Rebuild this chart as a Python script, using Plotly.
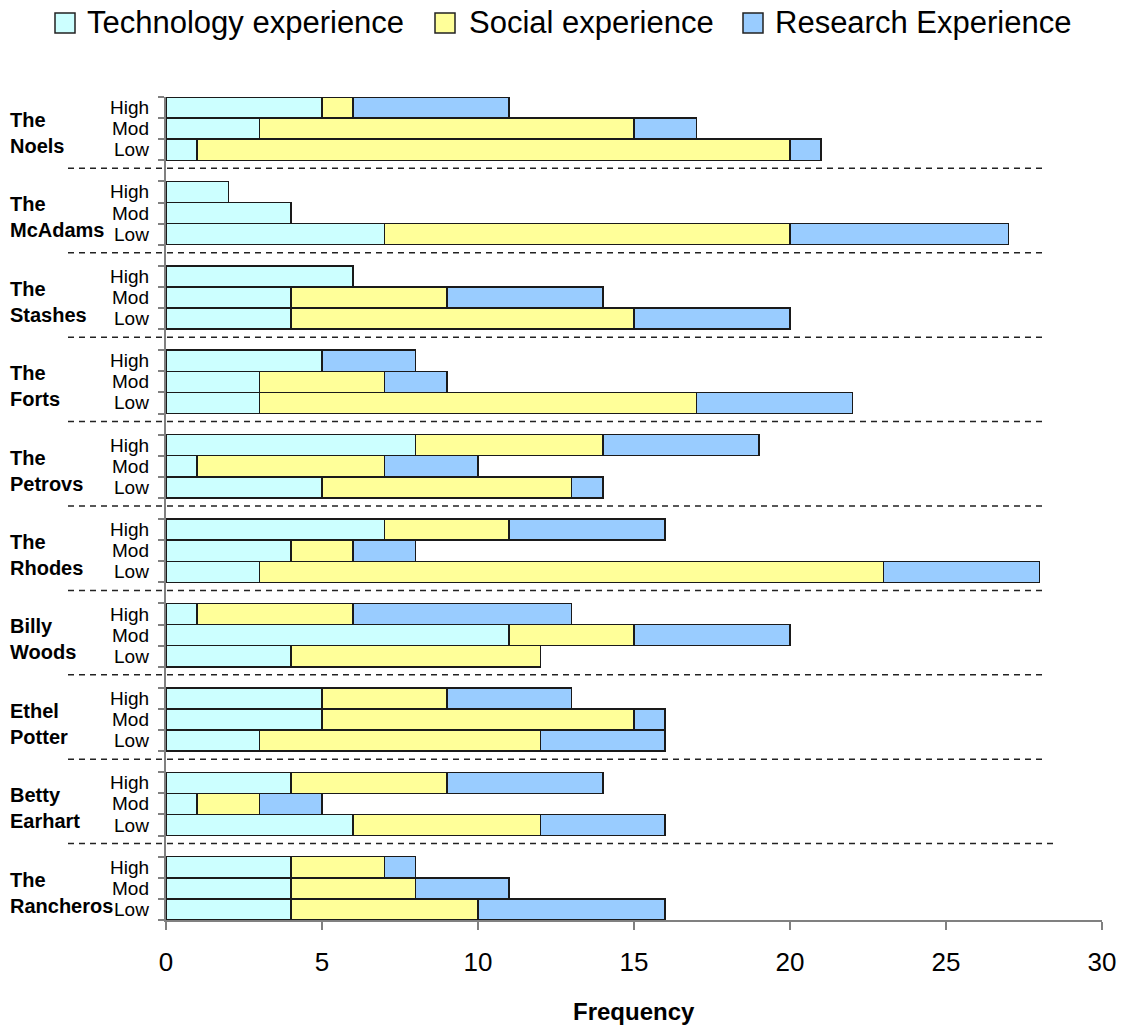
import plotly.graph_objects as go

# Households / people, listed top to bottom
groups = ["The<br>Noels", "The<br>McAdams", "The<br>Stashes", "The<br>Forts",
          "The<br>Petrovs", "The<br>Rhodes", "Billy<br>Woods", "Ethel<br>Potter",
          "Betty<br>Earhart", "The<br>Rancheros"]
levels = ["High", "Mod", "Low"]
series_names = ["Technology experience", "Social experience", "Research Experience"]

# Frequencies per group, in the order [High, Mod, Low]
technology = [[5, 3, 1], [2, 4, 7], [6, 4, 4], [5, 3, 3], [8, 1, 5],
              [7, 4, 3], [1, 11, 4], [5, 5, 3], [4, 1, 6], [4, 4, 4]]
social = [[1, 12, 19], [0, 0, 13], [0, 5, 11], [0, 4, 14], [6, 6, 8],
          [4, 2, 20], [5, 4, 8], [4, 10, 9], [5, 2, 6], [3, 4, 6]]
research = [[5, 2, 1], [0, 0, 7], [0, 5, 5], [3, 2, 5], [5, 3, 1],
            [5, 2, 5], [7, 5, 0], [4, 1, 4], [5, 2, 4], [1, 3, 6]]

x_ticks = [0, 5, 10, 15, 20, 25, 30]
x_title = "Frequency"

colors = ["#CCFFFF", "#FFFF99", "#99CCFF"]
FONT = "Liberation Sans, Arial, Helvetica, sans-serif"

# Figure geometry (pixels)
W, H = 1121, 1025
PL, PR, PT, PB = 166, 1102, 97, 920
SLOTS = 4  # three bars plus one empty slot between groups


def px(x):
    return (x - PL) / (PR - PL)


def py(y):
    return (PB - y) / (PB - PT)


n_groups = len(groups)
positions = [g * SLOTS + l for g in range(n_groups) for l in range(len(levels))]

fig = go.Figure()
for name, data, color in zip(series_names, [technology, social, research], colors):
    vals = [v if v != 0 else None for row in data for v in row]
    fig.add_trace(go.Bar(
        x=vals, y=positions, orientation="h", name=name, width=1,
        marker=dict(color=color, line=dict(color="#1a1a1a", width=1.5)),
        showlegend=False, hoverinfo="x+name",
    ))

# Tick marks at bar boundaries on the category axis
y_ticks = []
for g in range(n_groups):
    base = g * SLOTS
    y_ticks += [base - 0.5, base + 0.5, base + 1.5, base + 2.5]

annotations = []
shapes = []

# Level labels and group names
for g, gname in enumerate(groups):
    for l, lev in enumerate(levels):
        annotations.append(dict(
            x=px(151), xref="paper", y=g * SLOTS + l, yref="y",
            text=lev, showarrow=False, xanchor="right", yanchor="middle",
            font=dict(family=FONT, size=19, color="#000000"),
        ))
    annotations.append(dict(
        x=px(8), xref="paper", y=g * SLOTS + 1.2, yref="y",
        text="<b>" + gname + "</b>", showarrow=False, xanchor="left",
        yanchor="middle", align="left",
        font=dict(family=FONT, size=20, color="#000000"),
    ))

# Dashed separators between groups
for g in range(n_groups - 1):
    x_end = 1053 if g == n_groups - 2 else 1044
    ysep = g * SLOTS + 2.88
    shapes.append(dict(
        type="line", xref="paper", yref="y", x0=px(68), x1=px(x_end),
        y0=ysep, y1=ysep, line=dict(color="#222222", width=1.5, dash="6px,5px"),
    ))

# Legend drawn across the top
legend_items = [(55, 85), (435, 467), (743, 773)]
for (sq_x, tx_x), name, color in zip(legend_items, series_names, colors):
    shapes.append(dict(
        type="rect", xref="paper", yref="paper",
        x0=px(sq_x), x1=px(sq_x + 20), y0=py(33), y1=py(13),
        fillcolor=color, line=dict(color="#222222", width=1.5),
    ))
    annotations.append(dict(
        x=px(tx_x), xref="paper", y=py(23), yref="paper", text=name,
        showarrow=False, xanchor="left", yanchor="middle",
        font=dict(family=FONT, size=31, color="#000000"),
    ))

# Axis title
annotations.append(dict(
    x=0.5, xref="paper", y=py(1012), yref="paper", text="<b>" + x_title + "</b>",
    showarrow=False, xanchor="center", yanchor="middle",
    font=dict(family=FONT, size=24, color="#000000"),
))

fig.update_layout(
    width=W, height=H, autosize=False,
    margin=dict(l=PL, r=W - PR, t=PT, b=H - PB, pad=0, autoexpand=False),
    barmode="stack",
    plot_bgcolor="#FFFFFF", paper_bgcolor="#FFFFFF",
    font=dict(family=FONT, color="#000000"),
    showlegend=False,
    xaxis=dict(
        range=[0, 30], tickvals=x_ticks, ticks="outside", ticklen=8,
        tickwidth=1.5, tickcolor="#808080", showline=True, linecolor="#808080",
        linewidth=1.5, showgrid=False, zeroline=False, automargin=False,
        tickfont=dict(family=FONT, size=26, color="#000000"),
        ticklabelstandoff=10,
    ),
    yaxis=dict(
        range=[n_groups * SLOTS - 1.5, -0.5], tickvals=y_ticks,
        ticktext=[""] * len(y_ticks), ticks="outside", ticklen=6, tickwidth=1.5,
        tickcolor="#808080", showline=True, linecolor="#808080", linewidth=1.5,
        showgrid=False, zeroline=False, automargin=False,
    ),
    annotations=annotations,
    shapes=shapes,
)

fig.write_html("out.html")
